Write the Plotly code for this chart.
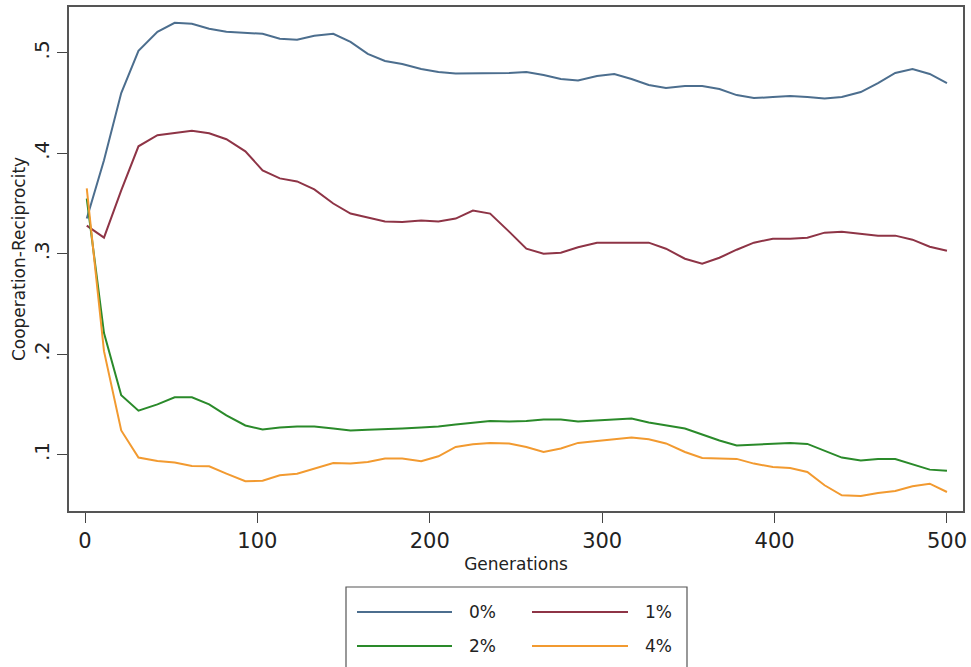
import plotly.graph_objects as go

# ---- data ----
generations = [1, 11, 21, 31, 42, 52, 62, 72, 82, 93,
               103, 113, 123, 133, 144, 154, 164, 174, 184, 195,
               205, 215, 225, 235, 246, 256, 266, 276, 286, 297,
               307, 317, 327, 337, 348, 358, 368, 378, 388, 399,
               409, 419, 429, 439, 450, 460, 470, 480, 490, 500]

series_names = ["0%", "1%", "2%", "4%"]

coop_0 = [0.335, 0.393, 0.460, 0.502, 0.521, 0.530, 0.529, 0.524, 0.521, 0.520,
          0.519, 0.514, 0.513, 0.517, 0.519, 0.511, 0.499, 0.492, 0.489, 0.484,
          0.481, 0.4795, 0.4795, 0.480, 0.480, 0.481, 0.478, 0.474, 0.4725, 0.477,
          0.479, 0.474, 0.468, 0.465, 0.467, 0.467, 0.464, 0.458, 0.455, 0.456,
          0.457, 0.456, 0.4545, 0.456, 0.461, 0.470, 0.480, 0.484, 0.479, 0.470]

coop_1 = [0.328, 0.316, 0.363, 0.407, 0.418, 0.420, 0.4225, 0.420, 0.414, 0.402,
          0.383, 0.375, 0.372, 0.364, 0.350, 0.340, 0.336, 0.332, 0.3315, 0.333,
          0.332, 0.335, 0.343, 0.340, 0.322, 0.305, 0.300, 0.301, 0.3065, 0.311,
          0.311, 0.311, 0.311, 0.305, 0.295, 0.290, 0.296, 0.304, 0.311, 0.315,
          0.315, 0.316, 0.321, 0.322, 0.320, 0.318, 0.318, 0.314, 0.307, 0.303]

coop_2 = [0.355, 0.221, 0.159, 0.1437, 0.150, 0.157, 0.157, 0.150, 0.139, 0.129,
          0.125, 0.127, 0.128, 0.128, 0.126, 0.124, 0.1246, 0.125, 0.126, 0.127,
          0.128, 0.130, 0.132, 0.1335, 0.133, 0.1335, 0.135, 0.135, 0.133, 0.134,
          0.1355, 0.136, 0.132, 0.129, 0.126, 0.120, 0.114, 0.109, 0.110, 0.1106,
          0.1116, 0.1106, 0.104, 0.097, 0.094, 0.0956, 0.0956, 0.090, 0.085, 0.084]

coop_4 = [0.365, 0.203, 0.124, 0.097, 0.0937, 0.092, 0.0887, 0.0883, 0.081, 0.0734,
          0.074, 0.0793, 0.081, 0.086, 0.0916, 0.091, 0.0926, 0.096, 0.096, 0.0933,
          0.0983, 0.1076, 0.1103, 0.1116, 0.111, 0.1076, 0.1026, 0.106, 0.1116, 0.1136,
          0.115, 0.117, 0.1153, 0.1111, 0.1026, 0.0966, 0.096, 0.0957, 0.091, 0.0876,
          0.0866, 0.0827, 0.0694, 0.0594, 0.0587, 0.0617, 0.0637, 0.0684, 0.071, 0.0627]

x_tick_vals = [0, 100, 200, 300, 400, 500]
y_tick_vals = [0.1, 0.2, 0.3, 0.4, 0.5]
y_tick_text = [".1", ".2", ".3", ".4", ".5"]

colors = ["#4C6E8E", "#8E3446", "#2A8A2A", "#F29A30"]
all_series = [coop_0, coop_1, coop_2, coop_4]

FONT = "DejaVu Sans"
W, H = 971, 667
L, R, T, B = 69, 8, 7, 156
PW, PH = W - L - R, H - T - B


def px_x(p):
    return (p - L) / PW


def px_y(p):
    return (H - B - p) / PH


fig = go.Figure()
for name, ys, col in zip(series_names, all_series, colors):
    fig.add_trace(go.Scatter(x=generations, y=ys, mode="lines", name=name,
                             line=dict(color=col, width=2), showlegend=False))

# ---- legend box drawn in the margin (two columns, long line samples) ----
shapes = [dict(type="rect", xref="paper", yref="paper",
               x0=px_x(346), x1=px_x(687), y0=px_y(587), y1=px_y(720),
               line=dict(color="#555555", width=1.2), fillcolor="white")]
annotations = []
legend_slots = [(357, 452, 467, 612), (532, 628, 643, 612),
                (357, 452, 467, 646), (532, 628, 643, 646)]
for name, col, (lx0, lx1, tx, ly) in zip(series_names, colors, legend_slots):
    shapes.append(dict(type="line", xref="paper", yref="paper",
                       x0=px_x(lx0), x1=px_x(lx1), y0=px_y(ly), y1=px_y(ly),
                       line=dict(color=col, width=2)))
    annotations.append(dict(text=name, xref="paper", yref="paper",
                            x=px_x(tx), y=px_y(ly), xanchor="left", yanchor="middle",
                            showarrow=False, font=dict(family=FONT, size=17, color="#222222")))

fig.update_layout(
    width=W, height=H,
    margin=dict(l=L, r=R, t=T, b=B, autoexpand=False),
    paper_bgcolor="white", plot_bgcolor="white",
    font=dict(family=FONT, color="#222222"),
    shapes=shapes, annotations=annotations,
    showlegend=False,
)
fig.update_xaxes(
    range=[-9.3, 509.3], tickvals=x_tick_vals, ticks="outside", ticklen=10,
    tickcolor="#444444", tickwidth=1.2,
    showgrid=False, zeroline=False, showline=True, mirror=True,
    linecolor="#555555", linewidth=1.5,
    tickfont=dict(family=FONT, size=21, color="#222222"),
    title=dict(text="Generations", font=dict(family=FONT, size=17, color="#222222"), standoff=6),
)
fig.update_yaxes(
    range=[0.0438, 0.5457], tickvals=y_tick_vals, ticktext=y_tick_text, tickangle=-90,
    ticks="outside", ticklen=10, tickcolor="#444444", tickwidth=1.2,
    showgrid=False, zeroline=False, showline=True, mirror=True,
    linecolor="#555555", linewidth=1.5,
    tickfont=dict(family=FONT, size=20, color="#222222"),
    title=dict(text="Cooperation-Reciprocity", font=dict(family=FONT, size=17, color="#222222"), standoff=0),
)

fig.write_html("out.html", config={"displayModeBar": False},
               post_script="document.body.style.margin='0';document.body.style.padding='0';")
